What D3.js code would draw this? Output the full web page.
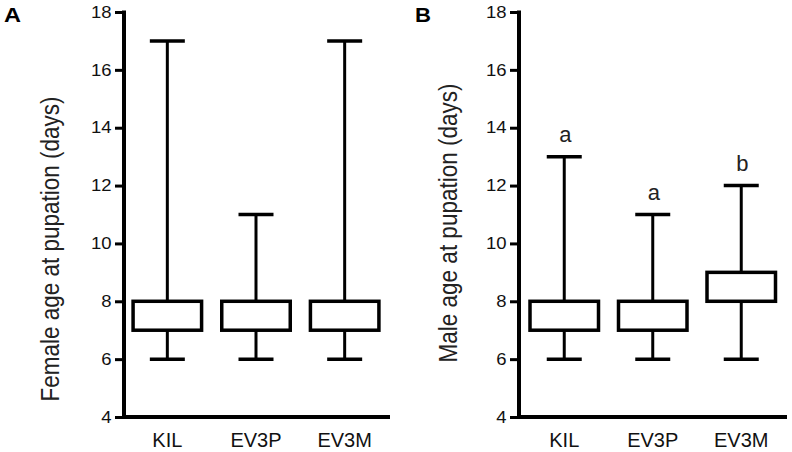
<!DOCTYPE html>
<html>
<head>
<meta charset="utf-8">
<script src="https://cdn.jsdelivr.net/npm/d3@7"></script>
<style>
  html, body { margin: 0; padding: 0; background: #fff; }
  svg { display: block; font-family: "Liberation Sans", Arial, Helvetica, sans-serif; }
</style>
</head>
<body>
<svg id="chart" width="792" height="452"></svg>
<script>
// ---- data ----
const categories = ["KIL", "EV3P", "EV3M"];
const yTicks = [4, 6, 8, 10, 12, 14, 16, 18];

const femaleMin = [6, 6, 6];
const femaleQ1  = [7, 7, 7];
const femaleQ3  = [8, 8, 8];
const femaleMax = [17, 11, 17];

const maleMin = [6, 6, 6];
const maleQ1  = [7, 7, 8];
const maleQ3  = [8, 8, 9];
const maleMax = [13, 11, 12];
const maleLetters = ["a", "a", "b"];

const panels = [
  { label: "A", title: "Female age at pupation (days)", min: femaleMin, q1: femaleQ1, q3: femaleQ3, max: femaleMax, letters: null,
    axisX: 124, xEnd: 390, xRange: [123, 389], labelX: 4, labelW: 17, titleX: 59, titleY: 249 },
  { label: "B", title: "Male age at pupation (days)", min: maleMin, q1: maleQ1, q3: maleQ3, max: maleMax, letters: maleLetters,
    axisX: 519, xEnd: 787, xRange: [520, 785.5], labelX: 415, labelW: 16, titleX: 457, titleY: 223 }
];

const svg = d3.select("#chart");
const y = d3.scaleLinear().domain([4, 18]).range([417, 12]);

panels.forEach(p => {
  const g = svg.append("g");
  const x = d3.scaleBand().domain(categories).range(p.xRange).padding(0);
  const cx = c => x(c) + x.bandwidth() / 2;

  // y axis
  const yAxis = d3.axisLeft(y).tickValues(yTicks).tickSize(9).tickPadding(3).tickFormat(d3.format("d"));
  const ya = g.append("g").attr("transform", `translate(${p.axisX},0)`).call(yAxis);
  ya.select(".domain").remove();
  ya.selectAll(".tick line").attr("stroke", "#000").attr("stroke-width", 3);
  ya.selectAll(".tick text").attr("fill", "#111").attr("font-size", 16.5)
    .attr("x", -12.5)
    .each(function() {
      const w = this.getComputedTextLength();
      d3.select(this).attr("textLength", w * 1.12).attr("lengthAdjust", "spacingAndGlyphs");
    });
  g.append("line").attr("x1", p.axisX).attr("x2", p.axisX).attr("y1", y(18) - 1.5).attr("y2", y(4) + 2)
    .attr("stroke", "#000").attr("stroke-width", 4);

  // x axis
  g.append("line").attr("x1", p.axisX - 2).attr("x2", p.xEnd).attr("y1", y(4)).attr("y2", y(4))
    .attr("stroke", "#000").attr("stroke-width", 4);
  g.selectAll(".xlab").data(categories).enter().append("text")
    .attr("class", "xlab")
    .attr("x", d => cx(d)).attr("y", 447)
    .attr("text-anchor", "middle").attr("font-size", 20).attr("fill", "#111")
    .text(d => d);

  // boxes
  const boxW = 68.5, capW = 35;
  categories.forEach((c, i) => {
    const xc = cx(c);
    const bg = g.append("g");
    bg.append("line").attr("x1", xc).attr("x2", xc).attr("y1", y(p.q3[i])).attr("y2", y(p.max[i]))
      .attr("stroke", "#000").attr("stroke-width", 3);
    bg.append("line").attr("x1", xc).attr("x2", xc).attr("y1", y(p.q1[i])).attr("y2", y(p.min[i]))
      .attr("stroke", "#000").attr("stroke-width", 3);
    bg.append("line").attr("x1", xc - capW / 2).attr("x2", xc + capW / 2).attr("y1", y(p.max[i])).attr("y2", y(p.max[i]))
      .attr("stroke", "#000").attr("stroke-width", 3.5);
    bg.append("line").attr("x1", xc - capW / 2).attr("x2", xc + capW / 2).attr("y1", y(p.min[i])).attr("y2", y(p.min[i]))
      .attr("stroke", "#000").attr("stroke-width", 3.5);
    bg.append("rect").attr("x", xc - boxW / 2).attr("width", boxW)
      .attr("y", y(p.q3[i])).attr("height", y(p.q1[i]) - y(p.q3[i]))
      .attr("fill", "#fff").attr("stroke", "#000").attr("stroke-width", 3.5);
    if (p.letters) {
      bg.append("text").attr("x", xc + 1).attr("y", y(p.max[i]) - 14.5)
        .attr("text-anchor", "middle").attr("font-size", 22).attr("fill", "#222")
        .text(p.letters[i]);
    }
  });

  // y title
  g.append("text")
    .attr("transform", `translate(${p.titleX},${p.titleY}) scale(1.12,1) rotate(-90)`)
    .attr("text-anchor", "middle").attr("font-size", 22.5).attr("fill", "#222")
    .text(p.title);

  // panel label
  g.append("text").attr("x", p.labelX).attr("y", 22)
    .attr("font-size", 20).attr("font-weight", "bold").attr("fill", "#000")
    .attr("textLength", p.labelW).attr("lengthAdjust", "spacingAndGlyphs")
    .text(p.label);
});
</script>
</body>
</html>
